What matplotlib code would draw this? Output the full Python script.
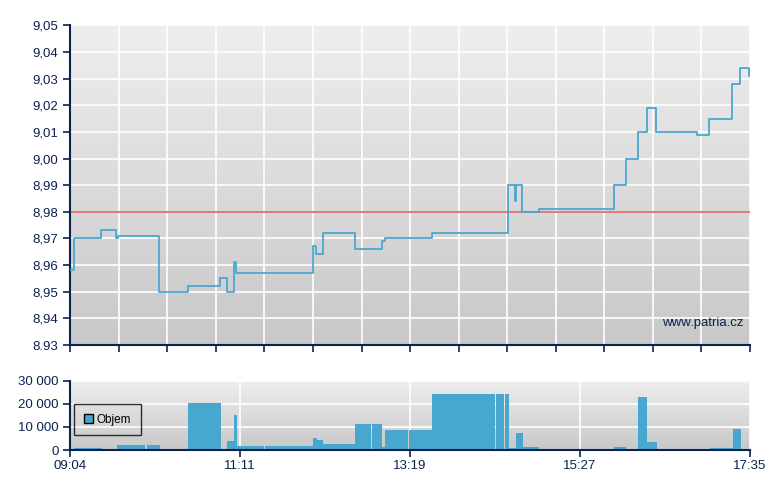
import numpy as np
import matplotlib
matplotlib.use("Agg")
import matplotlib.pyplot as plt
from matplotlib.colors import LinearSegmentedColormap
from matplotlib.patches import Patch

plt.rcParams['font.family'] = ['Liberation Sans', 'DejaVu Sans']

# minutes after 09:04 (session runs 09:04 - 17:35)
price_t = [0, 2.5, 23.3, 34.6, 36.1, 66.9, 88.7, 112.7, 117.5, 123.2, 124.5,
           182.2, 184.4, 189.9, 214.0, 234.5, 236.7, 272.0, 329.2, 334.4, 335.0,
           339.9, 352.4, 408.8, 417.6, 426.8, 433.6, 440.4, 471.5, 480.2, 497.8,
           503.8, 510.3, 511]
price = [8.958, 8.970, 8.973, 8.970, 8.971, 8.950, 8.952, 8.955, 8.950, 8.961, 8.957,
         8.967, 8.964, 8.972, 8.966, 8.969, 8.970, 8.972, 8.990, 8.984, 8.990,
         8.980, 8.981, 8.990, 9.000, 9.010, 9.019, 9.010, 9.009, 9.015, 9.028,
         9.034, 9.031, 9.031]
prev_close = 8.98

# volume bars: start minute, end minute, volume
vol_start = [2.8, 35.1, 57.6, 88.5, 117.5, 122.8, 125.0, 146.3, 182.4, 185.4, 189.7,
             213.9, 226.7, 234.2, 236.5, 254.5, 271.8, 319.9, 326.7, 329.7, 334.9,
             340.2, 352.2, 363.5, 391.3, 403.3, 408.6, 426.6, 433.4, 440.9, 480.7, 498.0]
vol_end = [23.8, 56.1, 67.4, 113.3, 122.8, 125.0, 145.6, 182.4, 185.4, 189.7, 213.9,
           226.0, 234.2, 236.5, 253.8, 271.8, 319.2, 325.9, 329.7, 334.9, 340.2,
           352.2, 362.7, 390.5, 402.6, 408.6, 417.6, 433.4, 440.9, 471.7, 498.0, 504.0]
volume = [700, 2300, 2300, 20300, 4000, 15300, 1900, 1900, 5300, 4300, 2600,
          11300, 11300, 1400, 8700, 8700, 24300, 24300, 24300, 900, 7400,
          1300, 600, 600, 600, 600, 1300, 23000, 3500, 600, 900, 9100]

price_ticks = [8.93, 8.94, 8.95, 8.96, 8.97, 8.98, 8.99, 9.00, 9.01, 9.02, 9.03, 9.04, 9.05]
price_labels = ['8.93', '8,94', '8,95', '8,96', '8,97', '8,98', '8,99', '9,00',
                '9,01', '9,02', '9,03', '9,04', '9,05']
vol_ticks = [0, 10000, 20000, 30000]
vol_labels = ['0', '10 000', '20 000', '30 000']
time_labels = ['09:04', '11:11', '13:19', '15:27', '17:35']

navy = '#0b2150'
line_blue = '#4aa6d0'
bar_blue = '#47a7cf'
session = 511

fig = plt.figure(figsize=(7.8, 4.9), dpi=100)
ax1 = fig.add_axes([0.0901, 0.2959, 0.8714, 0.6525])
ax2 = fig.add_axes([0.0901, 0.0816, 0.8714, 0.1415])

grad = LinearSegmentedColormap.from_list('bg', ['#c8c8c8', '#eeeeee'])
for ax in (ax1, ax2):
    ax.imshow(np.linspace(0, 1, 256).reshape(-1, 1), extent=[0, 1, 0, 1],
              transform=ax.transAxes, aspect='auto', cmap=grad, origin='lower', zorder=0)
    ax.set_axisbelow(True)
    ax.grid(True, color='white', lw=1.2)
    for s in ('top', 'right'):
        ax.spines[s].set_visible(False)
    for s in ('left', 'bottom'):
        ax.spines[s].set_color(navy)
        ax.spines[s].set_linewidth(1.5)
    ax.tick_params(colors=navy, labelcolor=navy, labelsize=9.5, width=1.2, length=5)

# price panel
ax1.plot(price_t, price, drawstyle='steps-post', color=line_blue, lw=1.3, zorder=3)
ax1.axhline(prev_close, color='#e06060', lw=1.2, zorder=2)
ax1.set_xlim(0, session)
ax1.set_ylim(8.93, 9.05)
ax1.set_yticks(price_ticks)
ax1.set_yticklabels(price_labels)
ax1.set_xticks(np.linspace(0, session, 15))
ax1.tick_params(axis='x', labelbottom=False)
ax1.text(0.99, 0.07, 'www.patria.cz', transform=ax1.transAxes, ha='right',
         va='center', color=navy, fontsize=9.5)

# volume panel
vs = np.array(vol_start)
ve = np.array(vol_end)
ax2.bar(vs, volume, width=ve - vs, align='edge', color=bar_blue, lw=0, zorder=2)
ax2.set_xlim(0, session)
ax2.set_ylim(0, 30000)
ax2.set_yticks(vol_ticks)
ax2.set_yticklabels(vol_labels)
ax2.set_xticks(np.linspace(0, session, 5))
ax2.set_xticklabels(time_labels)
ax2.tick_params(axis='x', pad=2)

leg = ax2.legend(handles=[Patch(facecolor=bar_blue, edgecolor='black', label='Objem')],
                 loc='center left', bbox_to_anchor=(0.0, 0.44), frameon=True,
                 fancybox=False, fontsize=8.5, handlelength=0.8, handleheight=0.8,
                 handletextpad=0.3, borderpad=0.8, borderaxespad=0.35, labelcolor='black')
leg.get_frame().set_facecolor('none')
leg.get_frame().set_edgecolor('black')
leg.get_frame().set_linewidth(1.0)

fig.savefig('out.png', dpi=100)
